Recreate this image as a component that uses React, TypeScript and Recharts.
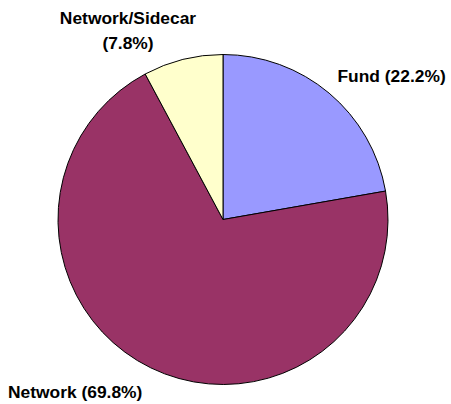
import React from 'react';
import { PieChart, Pie, Cell } from 'recharts';

const categories = ['Fund', 'Network', 'Network/Sidecar'];
const shares = [22.2, 69.8, 7.8];
const colors = ['#9999FF', '#993366', '#FFFFCC'];

const chartData = categories.map((name, i) => ({ name, value: shares[i] }));

// where each label sits relative to the pie centre (Excel puts them by hand)
const labelPos: Record<string, { dx: number; dy: number; anchor: 'start' | 'middle' }> = {
    Fund: { dx: 114.5, dy: -137.5, anchor: 'start' },
    Network: { dx: -215, dy: 178.5, anchor: 'start' },
    'Network/Sidecar': { dx: -95, dy: -195.5, anchor: 'middle' },
};

const renderLabel = (props: any) => {
    const { cx, cy, index } = props;
    const name = categories[index];
    const pct = `(${shares[index].toFixed(1)}%)`;
    const pos = labelPos[name];
    const x = cx + pos.dx;
    const y = cy + pos.dy;
    const style = { fontFamily: '"Liberation Sans", Arial, sans-serif', fontWeight: 700, fontSize: 17.4 };
    if (name.includes('/')) {
        return (
            <text key={name} x={x} y={y} textAnchor={pos.anchor} fill="#000" style={style}>
                <tspan x={x} dy={0}>{name}</tspan>
                <tspan x={x} dy={25}>{pct}</tspan>
            </text>
        );
    }
    return (
        <text key={name} x={x} y={y} textAnchor={pos.anchor} fill="#000" style={style}>
            {`${name} ${pct}`}
        </text>
    );
};

const App: React.FC = () => {
    return (
        <div style={{ position: 'absolute', left: 0, top: 0, width: 451, height: 404, background: '#fff' }}>
            <PieChart width={451} height={404} margin={{ top: 0, right: 0, bottom: 0, left: 0 }}>
                <Pie
                    data={chartData}
                    dataKey="value"
                    nameKey="name"
                    cx={223}
                    cy={219.5}
                    outerRadius={165}
                    startAngle={90}
                    endAngle={-270}
                    stroke="#000"
                    strokeWidth={1}
                    label={renderLabel}
                    labelLine={false}
                    isAnimationActive={false}
                >
                    {chartData.map((entry, index) => (
                        <Cell key={`cell-${index}`} fill={colors[index]} />
                    ))}
                </Pie>
            </PieChart>
        </div>
    );
};

export default App;
